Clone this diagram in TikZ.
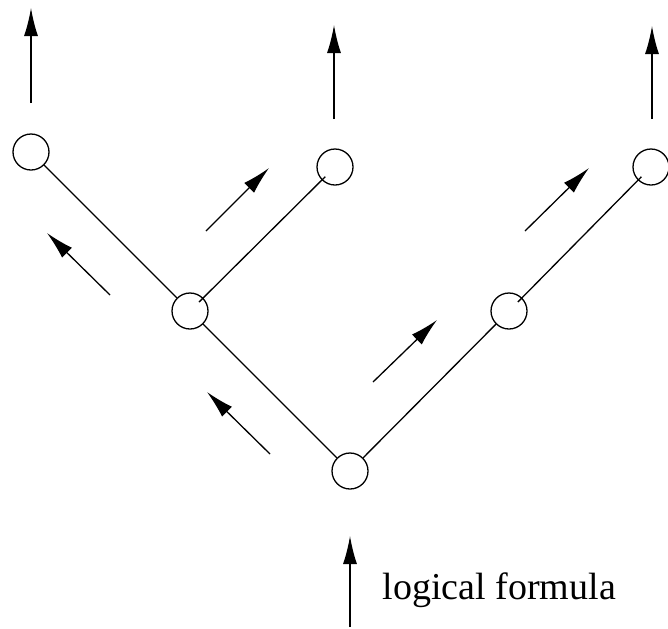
\documentclass[tikz,border=0pt]{standalone}
\usepackage{fontspec}
\setmainfont{Liberation Serif}
\usetikzlibrary{arrows.meta}
\tikzset{
	state/.style={circle, draw, line width=0.65pt, minimum size=18pt, inner sep=0pt},
	flow/.style={-{Latex[length=14pt,width=7pt]}, line width=0.65pt},
}
\begin{document}
\begin{tikzpicture}[x=0.5pt, y=-0.5pt, line width=0.65pt, line join=round]
	\useasboundingbox (0,0) rectangle (668,628);
	% tree
	\node[state] (root) at (350,471) {};
	\node[state] (lmid) at (190,311) {};
	\node[state] (rmid) at (509,311) {};
	\node[state] (ltop) at (31,152) {};
	\node[state] (mtop) at (335,167) {};
	\node[state] (rtop) at (651,167) {};
	\draw (root)--(lmid)--(ltop);
	\draw[shorten <=-3pt, shorten >=-2.5pt] (lmid)--(mtop);
	\draw (root)--(rmid);
	\draw[shorten <=-3pt, shorten >=-2.5pt] (rmid)--(rtop);
	% input and outputs
	\coordinate (ina) at (350,627);  \coordinate (inb) at (350,536);
	\coordinate (o1a) at (31,103);   \coordinate (o1b) at (31,8);
	\coordinate (o2a) at (334,119);  \coordinate (o2b) at (334,25);
	\coordinate (o3a) at (652,119);  \coordinate (o3b) at (652,26);
	% propagation
	\coordinate (p1a) at (270,454);  \coordinate (p1b) at (207,392);
	\coordinate (p2a) at (110,295);  \coordinate (p2b) at (47,233);
	\coordinate (p3a) at (206,231);  \coordinate (p3b) at (269,168);
	\coordinate (p4a) at (373,382);  \coordinate (p4b) at (437,320);
	\coordinate (p5a) at (525,231);  \coordinate (p5b) at (589,168);
	\foreach \s in {in,o1,o2,o3,p1,p2,p3,p4,p5}
		\draw[flow] (\s a) -- (\s b);
	\node[anchor=base west, inner sep=0pt, font=\fontsize{19}{22}\selectfont] (label) at (382,599) {logical formula};
\end{tikzpicture}
\end{document}
